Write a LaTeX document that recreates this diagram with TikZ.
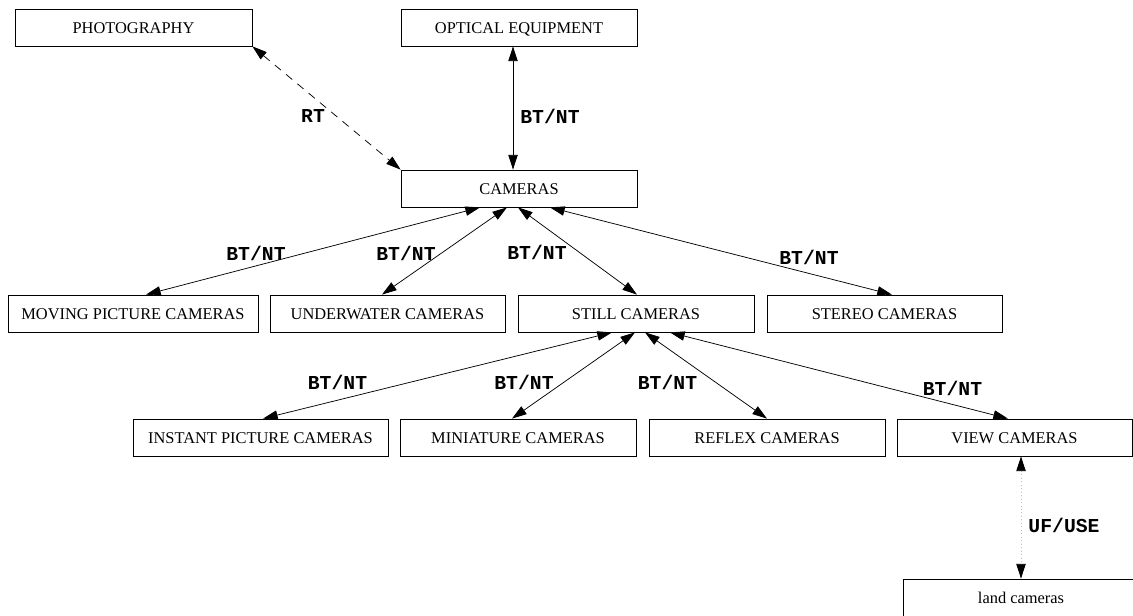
\documentclass[tikz,border=0pt]{standalone}
\usepackage{fontspec}
\setmainfont{Liberation Serif}
\newfontfamily\lblfont{Liberation Mono}
\usetikzlibrary{arrows.meta,calc}
\begin{document}
\begin{tikzpicture}[x=0.75pt,y=-0.75pt,
  bx/.style={draw, line width=0.6pt, inner sep=0pt, minimum height=27.75pt,
    minimum width=#1*0.75pt, text height=9.6pt, text depth=0pt,
    font=\fontsize{12.3}{14}\selectfont},
  tip/.tip={Triangle[length=11pt,width=7pt]},
  rel/.style={line width=0.55pt, tip-tip},
  assoc/.style={rel, dash pattern=on 6pt off 5pt},
  usefor/.style={line width=0.6pt, draw=black!25, dotted,
    {Triangle[length=11pt,width=7pt,color=black]}-{Triangle[length=11pt,width=7pt,color=black]}},
  lbl/.style={font=\lblfont\bfseries\fontsize{14.8}{16}\selectfont, inner sep=0pt}]
\useasboundingbox (0,0) rectangle (1133,615);
\clip (0,0) rectangle (1133,615);

% terms
\node[bx=237] (photo)   at (133.5,27.5)  {PHOTOGRAPHY};
\node[bx=236] (optical) at (519,27.5)    {OPTICAL EQUIPMENT};
\node[bx=236] (cam)     at (519,188.5)   {CAMERAS};
\node[bx=250] (moving)  at (133,313.5)   {MOVING PICTURE CAMERAS};
\node[bx=235] (under)   at (387.5,313.5) {UNDERWATER CAMERAS};
\node[bx=236] (still)   at (636,313.5)   {STILL CAMERAS};
\node[bx=235] (stereo)  at (884.5,313.5) {STEREO CAMERAS};
\node[bx=255] (instant) at (260.5,437.5) {INSTANT PICTURE CAMERAS};
\node[bx=236] (mini)    at (518,437.5)   {MINIATURE CAMERAS};
\node[bx=236] (reflex)  at (767,437.5)   {REFLEX CAMERAS};
\node[bx=235] (view)    at (1014.5,437.5){VIEW CAMERAS};
\node[bx=236] (land)    at (1021,597.5)  {land cameras};

% relations
\draw[assoc] (photo.south east) -- (cam.north west);
\draw[rel] ($(optical.south)+(-6,0)$) -- ($(cam.north)+(-6,0)$);
\draw[rel] ($(cam.south)+(-39,0)$) -- ($(moving.north)+(13,0)$);
\draw[rel] ($(cam.south)+(-12,0)$) -- ($(under.north)+(-5.5,0)$);
\draw[rel] ($(cam.south)+(-1,0)$)  -- ($(still.north)+(1,0)$);
\draw[rel] ($(cam.south)+(31,0)$)  -- ($(stereo.north)+(7.5,0)$);
\draw[rel] ($(still.south)+(-24,0)$) -- ($(instant.north)+(2.5,0)$);
\draw[rel] ($(still.south)+(-1,0)$)  -- ($(mini.north)+(-6,0)$);
\draw[rel] ($(still.south)+(9,0)$)   -- (reflex.north);
\draw[rel] ($(still.south)+(34,0)$)  -- ($(view.north)+(-6.5,0)$);
\draw[usefor] ($(view.south)+(6.5,0)$) -- (land.north);

% relation labels
\node[lbl] (l-rt)      at (313,116)   {RT};
\node[lbl] (l-optical) at (550,116)   {BT/NT};
\node[lbl] (l-moving)  at (256,253)   {BT/NT};
\node[lbl] (l-under)   at (406,253)   {BT/NT};
\node[lbl] (l-still)   at (537,252)   {BT/NT};
\node[lbl] (l-stereo)  at (809,257)   {BT/NT};
\node[lbl] (l-instant) at (337.5,382) {BT/NT};
\node[lbl] (l-mini)    at (524,382)   {BT/NT};
\node[lbl] (l-reflex)  at (667.5,382) {BT/NT};
\node[lbl] (l-view)    at (952.5,388) {BT/NT};
\node[lbl] (l-land)    at (1064,525)  {UF/USE};
\end{tikzpicture}
\end{document}
